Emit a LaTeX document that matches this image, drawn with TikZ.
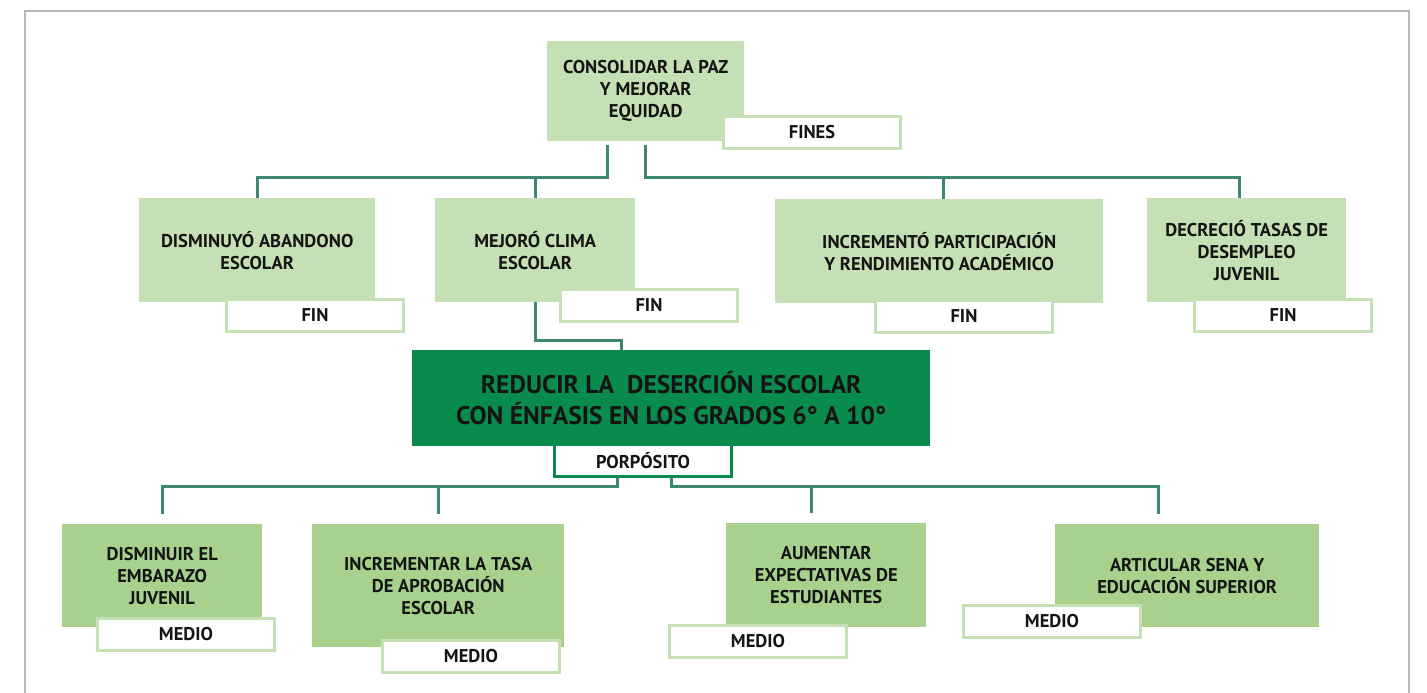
\documentclass[tikz,border=0pt]{standalone}
\usepackage{fontspec}
\setmainfont{PT Sans}
\definecolor{verdeclaro}{HTML}{C5E0B4}
\definecolor{verdemedio}{HTML}{A9D18E}
\definecolor{verdeoscuro}{HTML}{0A8B4E}
\definecolor{conector}{HTML}{3F8775}
\begin{document}
\begin{tikzpicture}[x=1pt, y=-1pt,
        % Estilos generales
        caja/.style={inner sep=0pt, align=center, text=black!92,
            font=\bfseries\fontsize{18.5}{22}\selectfont},
        fin/.style={caja, fill=verdeclaro},
        medio/.style={caja, fill=verdemedio},
        proposito/.style={caja, fill=verdeoscuro, font=\bfseries\fontsize{25.5}{31}\selectfont},
        etiqueta/.style={caja, fill=white, draw=verdeclaro, line width=3pt,
            minimum width=177pt, minimum height=32pt, anchor=north west},
        enlace/.style={draw=conector, line width=3pt},
        marco/.style={draw=black!28, line width=2pt}
    ]
    \useasboundingbox (0,0) rectangle (1427,693);

    % 1. Marco exterior (abierto abajo)
    \draw[marco] (25,693) -- (25,11) -- (1409,11) -- (1409,693);

    % 2. Fines
    \node[fin, minimum width=197pt, minimum height=100pt, anchor=north west] (paz) at (547,41) {CONSOLIDAR LA PAZ\\Y MEJORAR\\EQUIDAD};
    \node[etiqueta] (fines) at (722,115) {FINES};

    \node[fin, minimum width=236pt, minimum height=104pt, anchor=north west] (abandono) at (139,198) {DISMINUYÓ ABANDONO\\ESCOLAR};
    \node[etiqueta] (finA) at (225,298) {FIN};
    \node[fin, minimum width=200pt, minimum height=104pt, anchor=north west] (clima) at (435,198) {MEJORÓ CLIMA\\ESCOLAR};
    \node[etiqueta] (finB) at (559,288) {FIN};
    \node[fin, minimum width=328pt, minimum height=104pt, anchor=north west] (rendimiento) at (775,199) {INCREMENTÓ PARTICIPACIÓN\\Y RENDIMIENTO ACADÉMICO};
    \node[etiqueta] (finC) at (874,299) {FIN};
    \node[fin, minimum width=199pt, minimum height=104pt, anchor=north west] (desempleo) at (1147,198) {DECRECIÓ TASAS DE\\DESEMPLEO\\JUVENIL};
    \node[etiqueta] (finD) at (1193,298) {FIN};

    % 3. Proposito
    \node[proposito, minimum width=518pt, minimum height=96pt, anchor=north west] (desercion) at (412,350) {REDUCIR LA\ \ DESERCIÓN ESCOLAR\\CON ÉNFASIS EN LOS GRADOS 6° A 10°};
    \node[etiqueta, draw=verdeoscuro] (porposito) at (553,443) {PORPÓSITO};

    % 4. Medios
    \node[medio, minimum width=200pt, minimum height=103pt, anchor=north west] (embarazo) at (62,524) {DISMINUIR EL\\EMBARAZO\\JUVENIL};
    \node[etiqueta] (medA) at (96,617) {MEDIO};
    \node[medio, minimum width=252pt, minimum height=123pt, anchor=north west] (aprobacion) at (312,524) {INCREMENTAR LA TASA\\DE APROBACIÓN\\ESCOLAR};
    \node[etiqueta] (medB) at (381,639) {MEDIO};
    \node[medio, minimum width=200pt, minimum height=104pt, anchor=north west] (expectativas) at (726,523) {AUMENTAR\\EXPECTATIVAS DE\\ESTUDIANTES};
    \node[etiqueta] (medC) at (668,624) {MEDIO};
    \node[medio, minimum width=264pt, minimum height=103pt, anchor=north west] (sena) at (1055,524) {ARTICULAR SENA Y\\EDUCACIÓN SUPERIOR};
    \node[etiqueta] (medD) at (962,604) {MEDIO};

    % 5. Conectores (barras horizontales)
    \coordinate (bus1) at (0,177);
    \coordinate (bus2) at (0,340);
    \coordinate (bus3) at (0,486);

    \draw[enlace] ([xshift=-38pt,yshift=-4pt]paz.south) |- (abandono.north |- bus1) -- (abandono.north);
    \draw[enlace] (clima.north |- bus1) -- (clima.north);
    \draw[enlace] ([yshift=-4pt]paz.south) |- ([xshift=-7pt]desempleo.north |- bus1) -- ([xshift=-7pt]desempleo.north);
    \draw[enlace] ([xshift=4pt]rendimiento.north |- bus1) -- ([xshift=4pt]rendimiento.north);

    \draw[enlace] (clima.south) |- ([xshift=-50pt]desercion.north |- bus2) -- ([xshift=-50pt]desercion.north);

    \draw[enlace] ([xshift=-26pt]porposito.south) |- (embarazo.north |- bus3) -- ([yshift=10pt]embarazo.north);
    \draw[enlace] (aprobacion.north |- bus3) -- ([yshift=10pt]aprobacion.north);
    \draw[enlace] (porposito.south -| desercion.south) |- ([xshift=-29pt]sena.north |- bus3) -- ([xshift=-29pt,yshift=10pt]sena.north);
    \draw[enlace] ([xshift=-15pt]expectativas.north |- bus3) -- ([xshift=-15pt,yshift=10pt]expectativas.north);

\end{tikzpicture}
\end{document}
